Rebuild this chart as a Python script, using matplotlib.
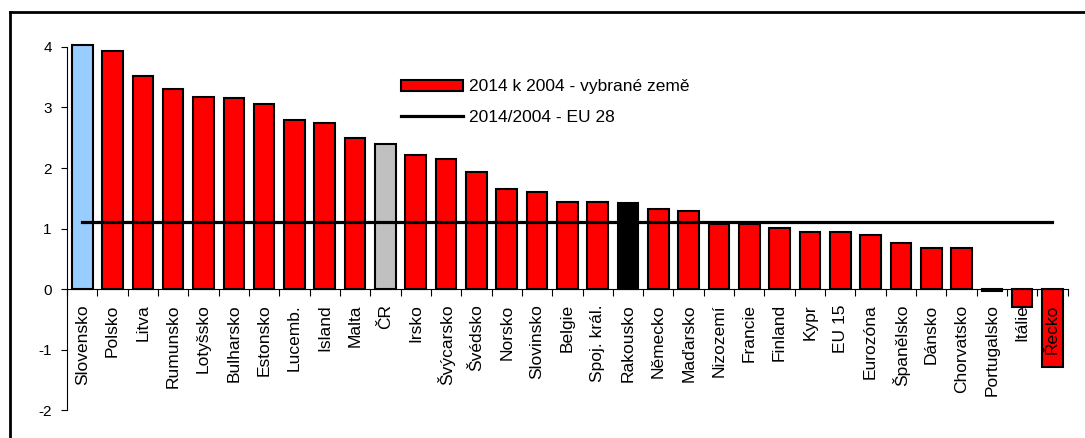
import numpy as np
import matplotlib.pyplot as plt
from matplotlib.lines import Line2D
from matplotlib.patches import Patch

plt.rcParams['font.family'] = ['Liberation Sans', 'DejaVu Sans']
plt.rcParams['axes.unicode_minus'] = False

# countries and 2014/2004 ratio values
countries = ['Slovensko', 'Polsko', 'Litva', 'Rumunsko', 'Lotyšsko', 'Bulharsko',
             'Estonsko', 'Lucemb.', 'Island', 'Malta', 'ČR', 'Irsko', 'Švýcarsko',
             'Švédsko', 'Norsko', 'Slovinsko', 'Belgie', 'Spoj. král.', 'Rakousko',
             'Německo', 'Maďarsko', 'Nizozemí', 'Francie', 'Finland', 'Kypr', 'EU 15',
             'Eurozóna', 'Španělsko', 'Dánsko', 'Chorvatsko', 'Portugalsko', 'Itálie',
             'Řecko']
values = [4.04, 3.94, 3.52, 3.30, 3.17, 3.15, 3.05, 2.80, 2.74, 2.50, 2.40, 2.22,
          2.15, 1.94, 1.65, 1.60, 1.44, 1.44, 1.42, 1.32, 1.29, 1.07, 1.07, 1.01,
          0.95, 0.95, 0.90, 0.76, 0.67, 0.67, -0.03, -0.29, -1.29]
eu28 = 1.11

# highlighted bars
special = {'Slovensko': '#99CCFF', 'ČR': '#C0C0C0', 'Rakousko': '#000000',
           'Portugalsko': '#000000'}
colors = [special.get(c, '#FF0000') for c in countries]

fig = plt.figure(figsize=(10.85, 4.38), dpi=100)
ax = fig.add_axes([0.0618, 0.0639, 0.9222, 0.8288])

x = np.arange(len(countries))
ax.bar(x, values, width=0.68, color=colors, edgecolor='black', linewidth=1.5,
       clip_on=False, zorder=1)
ax.plot(x, [eu28] * len(x), color='black', linewidth=2.3, zorder=2)

ax.set_xlim(-0.5, len(countries) - 0.5)
ax.set_ylim(-2, 4)
ax.set_yticks([-2, -1, 0, 1, 2, 3, 4])
ax.tick_params(axis='y', direction='out', length=4, width=0.8, pad=7, labelsize=11)

# x axis sits on zero, ticks between categories
ax.spines['bottom'].set_position(('data', 0))
ax.spines['top'].set_visible(False)
ax.spines['right'].set_visible(False)
ax.spines['left'].set_linewidth(0.8)
ax.spines['bottom'].set_linewidth(0.8)
ax.set_xticks(x)
ax.set_xticklabels(countries, rotation=90, fontsize=12.5)
ax.set_xticks(np.arange(-0.5, len(countries)), minor=True)
ax.tick_params(axis='x', which='major', length=0, pad=11)
ax.tick_params(axis='x', which='minor', direction='out', length=5, width=0.8)

handles = [Patch(facecolor='#FF0000', edgecolor='black', linewidth=1.5),
           Line2D([], [], color='black', linewidth=2.3)]
labels = ['2014 k 2004 - vybrané země', '2014/2004 - EU 28']
fig.legend(handles, labels, loc='upper left', bbox_to_anchor=(0.355, 0.855),
           frameon=False, fontsize=12.5, handlelength=3.6, handleheight=0.6,
           handletextpad=0.3, labelspacing=0.9)

# outer chart frame (top and left edges visible)
fig.add_artist(Line2D([10 / 1085, 1], [1 - 12 / 438, 1 - 12 / 438],
                      color='black', linewidth=2, transform=fig.transFigure))
fig.add_artist(Line2D([10 / 1085, 10 / 1085], [0, 1 - 12 / 438],
                      color='black', linewidth=2, transform=fig.transFigure))

fig.savefig('out.png', dpi=100)
